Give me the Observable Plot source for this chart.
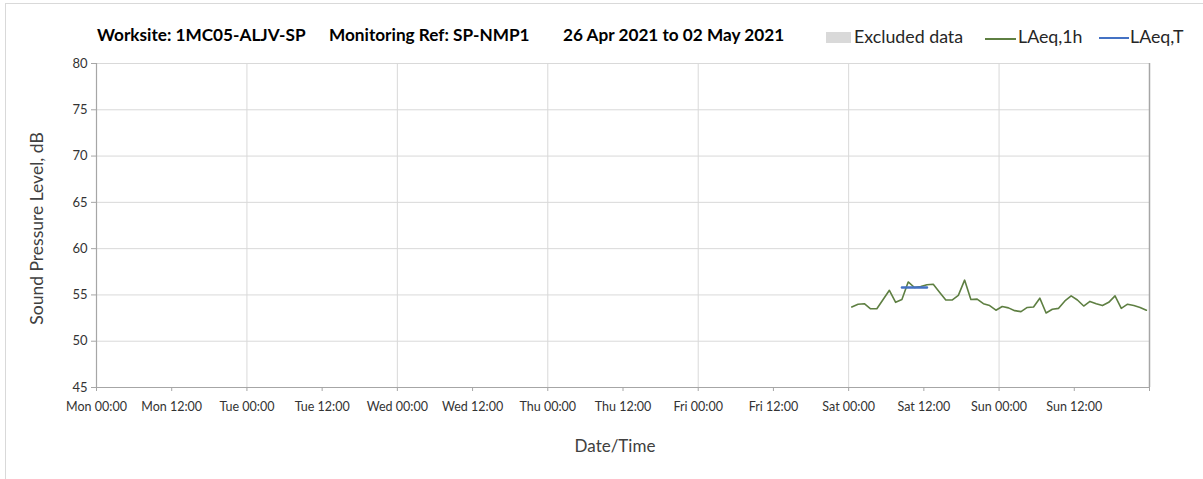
<!DOCTYPE html>
<html>
<head>
<meta charset="utf-8">
<script src="https://cdn.jsdelivr.net/npm/d3@7"></script>
<script src="https://cdn.jsdelivr.net/npm/@observablehq/plot@0.6"></script>
<style>
  html, body { margin: 0; padding: 0; background: #fff; }
  body { width: 1203px; height: 479px; position: relative; overflow: hidden; font-family: Lato, "Open Sans", sans-serif; }
  #frame { position: absolute; left: 5px; top: 3px; width: 1400px; height: 600px; border-left: 1px solid #d9d9d9; border-top: 1px solid #d9d9d9; }
  .t { position: absolute; top: 24px; font-weight: bold; font-size: 17.2px; color: #000; white-space: pre; }
  .lg { position: absolute; top: 25px; font-size: 17.8px; color: #262626; white-space: pre; }
  .sw { position: absolute; }
  #chart { position: absolute; left: 0; top: 50px; }
</style>
</head>
<body>
<div id="frame"></div>
<div id="header"></div>
<div id="chart"></div>
<script>
// ---- data ----
const titleParts = ["Worksite: 1MC05-ALJV-SP", "Monitoring Ref: SP-NMP1", "26 Apr 2021 to 02 May 2021"];
const legendLabels = ["Excluded data", "LAeq,1h", "LAeq,T"];
const seriesColors = ["#d9d9d9", "#5e7f42", "#4472c4"];
const xStart = "2021-04-26T00:00:00Z";
const xEnd = "2021-05-03T00:00:00Z";
const laeq1hStart = "2021-05-01T00:30:00Z"; // first hourly value, one per hour after
const laeq1h = [53.7, 54.0, 54.05, 53.5, 53.5, 54.5, 55.5, 54.2, 54.5, 56.4, 55.8, 55.9,
                56.1, 56.15, 55.3, 54.45, 54.45, 54.95, 56.6, 54.5, 54.55, 54.05, 53.85, 53.35,
                53.75, 53.6, 53.3, 53.2, 53.65, 53.7, 54.65, 53.05, 53.45, 53.55, 54.35, 54.9,
                54.45, 53.8, 54.3, 54.05, 53.85, 54.2, 54.9, 53.55, 54.0, 53.85, 53.65, 53.35];
const laeqTTimes = ["2021-05-01T08:30:00Z", "2021-05-01T12:30:00Z"];
const laeqTValue = 55.8;
const yTicks = [45, 50, 55, 60, 65, 70, 75, 80];
const yGrid = [50, 55, 60, 65, 70, 75, 80];
const xLabel = "Date/Time";
const yLabel = "Sound Pressure Level, dB";

// ---- header (title + legend) ----
const header = document.getElementById("header");
const titleLefts = [97, 329, 563];
titleParts.forEach((t, i) => {
  const s = document.createElement("div");
  s.className = "t"; s.textContent = t; s.style.left = titleLefts[i] + "px";
  header.appendChild(s);
});
function addSw(left, top, w, h, color) {
  const d = document.createElement("div");
  d.className = "sw";
  Object.assign(d.style, {left: left + "px", top: top + "px", width: w + "px", height: h + "px", background: color});
  header.appendChild(d);
}
function addLg(left, text) {
  const d = document.createElement("div");
  d.className = "lg"; d.textContent = text; d.style.left = left + "px";
  header.appendChild(d);
}
addSw(826, 32, 25, 11, seriesColors[0]); addLg(854, legendLabels[0]);
addSw(985, 38, 31, 1.6, seriesColors[1]); addLg(1018, legendLabels[1]);
addSw(1099, 37, 30, 2.4, seriesColors[2]); addLg(1130, legendLabels[2]);

// ---- chart ----
const t0 = new Date(xStart), t1 = new Date(xEnd);
const s0 = new Date(laeq1hStart);
const lineData = laeq1h.map((v, i) => ({t: new Date(+s0 + i * 3600e3), v}));
const tData = laeqTTimes.map(s => ({t: new Date(s), v: laeqTValue}));
const dayLines = d3.utcDay.range(d3.utcDay.offset(t0, 1), t1);
const tickTimes = d3.utcHour.every(12).range(t0, d3.utcHour.offset(t1, 1));
const fmt = d3.utcFormat("%a %H:%M");

const chart = Plot.plot({
  width: 1203,
  height: 429,
  marginLeft: 96,
  marginRight: 54,
  marginTop: 13,
  marginBottom: 92,
  style: {fontFamily: "Lato, 'Open Sans', sans-serif", background: "transparent", overflow: "visible"},
  x: {type: "utc", domain: [t0, t1]},
  y: {domain: [45, 80]},
  marks: [
    Plot.ruleY(yGrid, {stroke: "#d9d9d9", strokeWidth: 1}),
    Plot.ruleX(dayLines, {stroke: "#d9d9d9", strokeWidth: 1}),
    Plot.ruleX([t1], {stroke: "#a6a6a6", strokeWidth: 1.5}),
    Plot.ruleX([t0], {stroke: "#a6a6a6", strokeWidth: 1.2}),
    Plot.ruleY([45], {stroke: "#a6a6a6", strokeWidth: 1.2}),
    Plot.axisY({ticks: yTicks, tickSize: 5, tickPadding: 4, fontSize: 13, stroke: "#a6a6a6", fill: "#333", label: null}),
    Plot.axisX({ticks: tickTimes, tickFormat: d => (+d === +t1 ? "" : fmt(d)), tickSize: 4, tickPadding: 11, fontSize: 12.5, stroke: "#a6a6a6", fill: "#333", label: null}),
    Plot.line(lineData, {x: "t", y: "v", stroke: seriesColors[1], strokeWidth: 1.6}),
    Plot.line(tData, {x: "t", y: "v", stroke: seriesColors[2], strokeWidth: 2.4}),
    Plot.text([xLabel], {text: d => d, frameAnchor: "bottom", dy: 64, dx: -8, fontSize: 17, fill: "#404040"}),
    Plot.text([yLabel], {text: d => d, frameAnchor: "left", textAnchor: "middle", dx: -59, dy: 3, rotate: -90, fontSize: 17.5, fill: "#404040"})
  ]
});
document.getElementById("chart").appendChild(chart);
</script>
</body>
</html>
